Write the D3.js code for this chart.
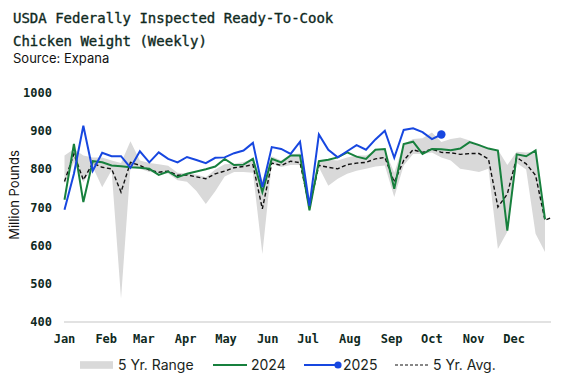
<!DOCTYPE html>
<html>
<head>
<meta charset="utf-8">
<script src="https://cdn.jsdelivr.net/npm/d3@7"></script>
<style>
  html, body { margin: 0; padding: 0; background: #ffffff; }
  svg { display: block; }
</style>
</head>
<body>
<svg id="chart" width="578" height="386"></svg>
<script>
// ---------------- data ----------------
const titleLines = ["USDA Federally Inspected Ready-To-Cook", "Chicken Weight (Weekly)"];
const sourceText = "Source: Expana";
const yAxisLabel = "Million Pounds";
const yTicks = [400, 500, 600, 700, 800, 900, 1000];
const monthLabels = ["Jan","Feb","Mar","Apr","May","Jun","Jul","Aug","Sep","Oct","Nov","Dec"];
const legendLabels = ["5 Yr. Range", "2024", "2025", "5 Yr. Avg."];

// weekly values (week 1 ... )
const range5yMax = [835, 852, 835, 830, 830, 822, 815, 872, 822, 815, 812, 808, 790, 788, 785, 778,
  798, 812, 813, 818, 826, 770, 833, 822, 838, 840, 722, 822, 824, 822, 830, 835, 835, 848, 850,
  790, 865, 878, 880, 895, 870, 878, 882, 874, 865, 852, 850, 810, 845, 843, 845, 682];
const range5yMin = [760, 817, 765, 805, 752, 796, 460, 804, 800, 792, 790, 788, 770, 766, 742, 708,
  741, 780, 792, 792, 790, 577, 813, 805, 810, 810, 688, 804, 756, 774, 787, 795, 800, 806, 809,
  726, 809, 839, 839, 843, 830, 822, 800, 796, 792, 800, 590, 635, 815, 798, 630, 582];
const series2024 = [719, 865, 713, 820, 817, 809, 807, 804, 803, 800, 784, 793, 778, 787, 793, 799,
  806, 826, 810, 811, 826, 739, 826, 817, 835, 835, 691, 820, 824, 830, 843, 832, 826, 850, 852,
  748, 865, 871, 839, 852, 851, 849, 853, 870, 862, 853, 848, 638, 838, 833, 848, 668];
const series2025 = [693, 787, 913, 795, 842, 833, 833, 803, 846, 817, 843, 826, 817, 831, 823, 815,
  829, 830, 841, 848, 868, 752, 857, 852, 839, 871, 703, 890, 850, 830, 846, 862, 850, 877, 900,
  829, 902, 906, 896, 878, 890];
const avg5y = [767, 839, 771, 815, 804, 800, 739, 817, 809, 797, 791, 794, 783, 784, 779, 774,
  787, 794, 803, 806, 811, 695, 815, 809, 820, 816, 700, 809, 804, 800, 811, 815, 817, 826, 830,
  765, 822, 850, 843, 852, 843, 842, 838, 840, 840, 826, 700, 734, 830, 813, 783, 665, 676];

// ---------------- layout ----------------
const svg = d3.select("#chart");
const DAY = 86400000;
const start = Date.UTC(2023, 0, 1);
const weekDate = i => new Date(start + i * 7 * DAY);

const x = d3.scaleUtc()
  .domain([weekDate(0), weekDate(51)])
  .range([64.5, 545]);
const y = d3.scaleLinear().domain([400, 1000]).range([321.5, 92.5]);

const ink = "#0f2a1e";
const green = "#17803d";
const blue = "#1747e0";
const gray = "#d9d9d9";

// title
svg.append("g").selectAll("text").data(titleLines).join("text")
  .attr("x", 13).attr("y", (d, i) => 23 + i * 22.5)
  .attr("font-family", "DejaVu Sans Mono, monospace")
  .attr("font-size", 14).attr("fill", ink)
  .attr("stroke", ink).attr("stroke-width", 0.35)
  .text(d => d);
svg.append("text").attr("x", 13).attr("y", 63)
  .attr("font-family", "Inter, sans-serif").attr("font-size", 13).attr("fill", "#111")
  .text(sourceText);

// clip
svg.append("clipPath").attr("id", "plotclip").append("rect")
  .attr("x", 60).attr("y", 60).attr("width", 491).attr("height", 270);
const plot = svg.append("g").attr("clip-path", "url(#plotclip)");

// band
const bandData = range5yMax.map((v, i) => ({ i, hi: v, lo: range5yMin[i] }));
plot.append("path").datum(bandData)
  .attr("fill", gray)
  .attr("d", d3.area().x(d => x(weekDate(d.i))).y0(d => y(d.lo)).y1(d => y(d.hi)));

// x axis baseline
svg.append("line").attr("x1", 64).attr("x2", 551).attr("y1", 322).attr("y2", 322)
  .attr("stroke", "#d9d9d9").attr("stroke-width", 1.6);

const lineGen = d3.line().x((d, i) => x(weekDate(i))).y(d => y(d));

plot.append("path").datum(avg5y)
  .attr("fill", "none").attr("stroke", "#111").attr("stroke-width", 1.4)
  .attr("stroke-dasharray", "4,2.5").attr("d", lineGen);
plot.append("path").datum(series2024)
  .attr("fill", "none").attr("stroke", green).attr("stroke-width", 2)
  .attr("stroke-linejoin", "miter").attr("d", lineGen);
plot.append("path").datum(series2025)
  .attr("fill", "none").attr("stroke", blue).attr("stroke-width", 2)
  .attr("d", lineGen);
const lastI = series2025.length - 1;
plot.append("circle").attr("cx", x(weekDate(lastI))).attr("cy", y(series2025[lastI]))
  .attr("r", 4.2).attr("fill", blue);

// y axis labels
svg.append("g").selectAll("text").data(yTicks).join("text")
  .attr("x", 52).attr("y", d => y(d) + 4.5).attr("text-anchor", "end")
  .attr("font-family", "DejaVu Sans Mono, monospace").attr("font-size", 12)
  .attr("font-weight", "bold").attr("fill", ink)
  .text(d => d);
svg.append("text")
  .attr("transform", "translate(19,195) rotate(-90)")
  .attr("text-anchor", "middle")
  .attr("font-family", "Inter, sans-serif").attr("font-size", 13).attr("fill", "#111")
  .text(yAxisLabel);

// x month labels
const months = d3.utcMonths(new Date(start), new Date(Date.UTC(2023, 11, 2)));
svg.append("g").selectAll("text").data(months).join("text")
  .attr("x", d => x(d)).attr("y", 343)
  .attr("text-anchor", "middle")
  .attr("font-family", "DejaVu Sans Mono, monospace").attr("font-size", 12)
  .attr("font-weight", "bold").attr("fill", ink)
  .text((d, i) => monthLabels[i]);

// legend
const lg = svg.append("g").attr("font-family", "Inter, sans-serif").attr("font-size", 14).attr("fill", "#1a2520");
const ly = 365;
lg.append("rect").attr("x", 80).attr("y", ly - 3.8).attr("width", 33).attr("height", 7.6).attr("fill", gray);
lg.append("text").attr("x", 118).attr("y", ly + 5).text(legendLabels[0]);
lg.append("line").attr("x1", 213).attr("x2", 247).attr("y1", ly).attr("y2", ly)
  .attr("stroke", green).attr("stroke-width", 2);
lg.append("text").attr("x", 251).attr("y", ly + 5).text(legendLabels[1]);
lg.append("line").attr("x1", 304).attr("x2", 338).attr("y1", ly).attr("y2", ly)
  .attr("stroke", blue).attr("stroke-width", 2);
lg.append("circle").attr("cx", 338).attr("cy", ly).attr("r", 3.6).attr("fill", blue);
lg.append("text").attr("x", 343).attr("y", ly + 5).text(legendLabels[2]);
lg.append("line").attr("x1", 395).attr("x2", 429).attr("y1", ly).attr("y2", ly)
  .attr("stroke", "#111").attr("stroke-width", 1.2).attr("stroke-dasharray", "3,2");
lg.append("text").attr("x", 433).attr("y", ly + 5).text(legendLabels[3]);
</script>
</body>
</html>
